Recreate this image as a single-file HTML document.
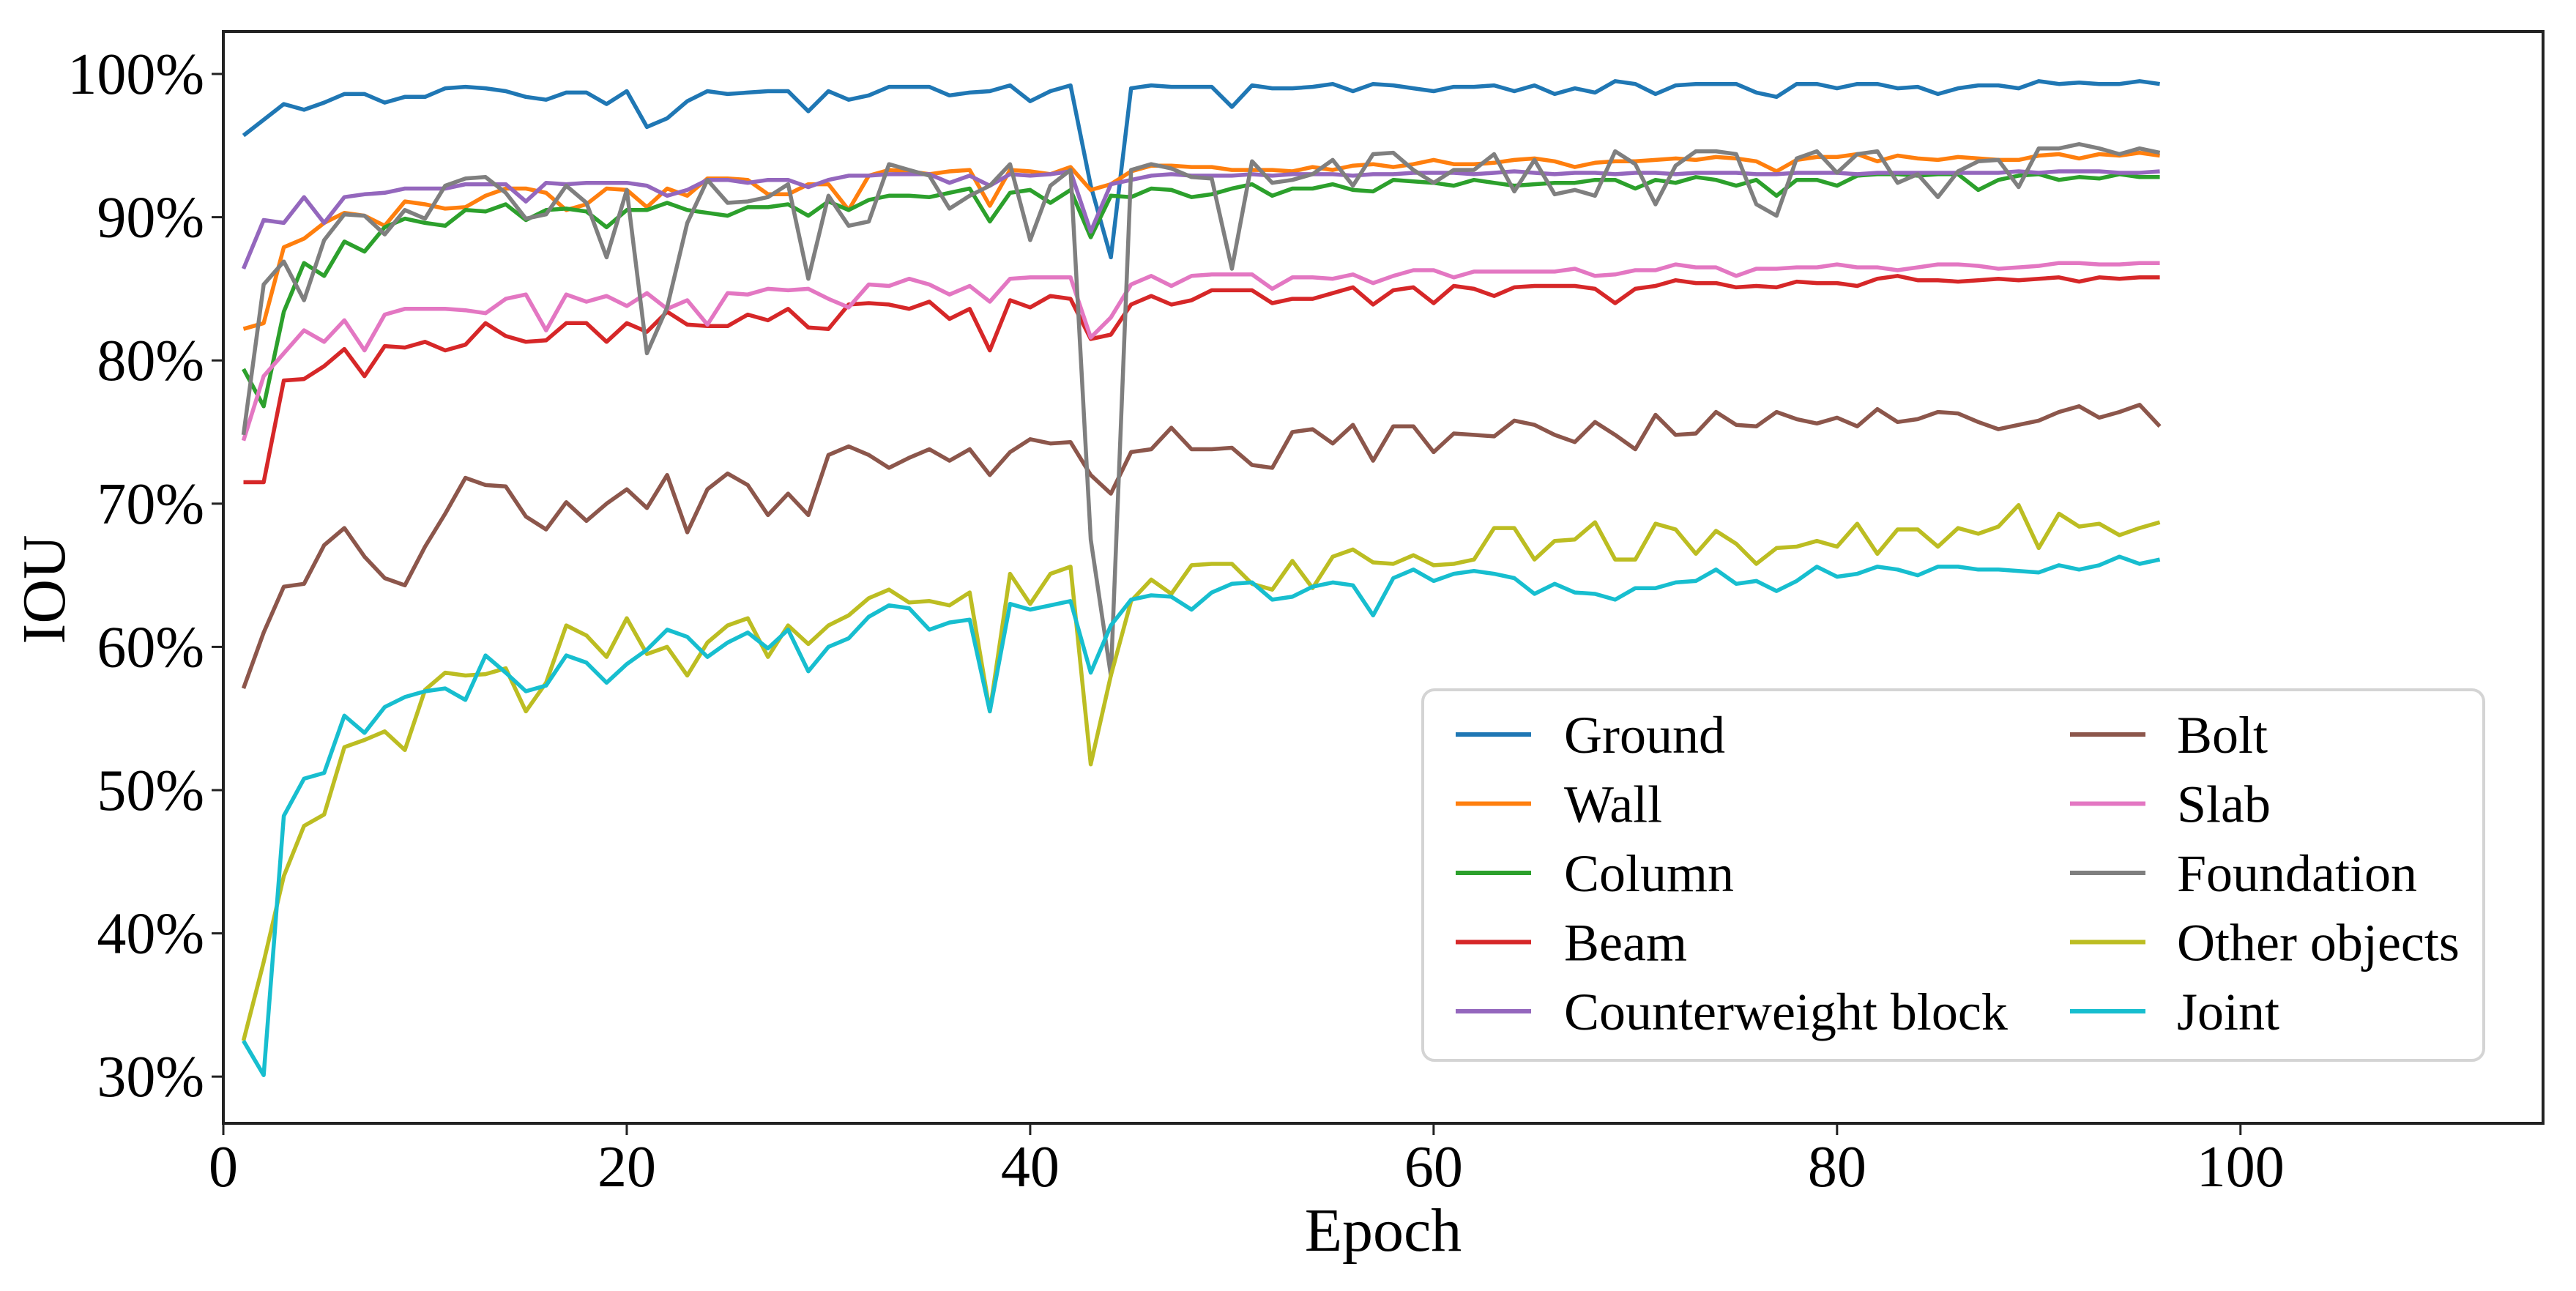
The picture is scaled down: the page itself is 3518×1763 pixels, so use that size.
<!DOCTYPE html>
<html><head><meta charset="utf-8"><style>
html,body{margin:0;padding:0;background:#fff;}
svg{display:block;font-family:"Liberation Serif",serif;}
</style></head><body>
<svg id="chart" width="3518" height="1763" viewBox="0 0 3518 1763" xmlns="http://www.w3.org/2000/svg">
<rect width="3518" height="1763" fill="#fff"/>
<g id="series"></g>
<g id="axes"></g>
<g id="legend"></g>
</svg>
<script>
const seriesNames = ["Ground","Wall","Column","Beam","Counterweight block","Bolt","Slab","Foundation","Other objects","Joint"];
const seriesColors = ["#1f77b4","#ff7f0e","#2ca02c","#d62728","#9467bd","#8c564b","#e377c2","#7f7f7f","#bcbd22","#17becf"];
const xTicks = [0,20,40,60,80,100];
const yTicks = [30,40,50,60,70,80,90,100];
const ground = [95.7,96.8,97.9,97.5,98.0,98.6,98.6,98.0,98.4,98.4,99.0,99.1,99.0,98.8,98.4,98.2,98.7,98.7,97.9,98.8,96.3,96.9,98.1,98.8,98.6,98.7,98.8,98.8,97.4,98.8,98.2,98.5,99.1,99.1,99.1,98.5,98.7,98.8,99.2,98.1,98.8,99.2,92.2,87.2,99.0,99.2,99.1,99.1,99.1,97.7,99.2,99.0,99.0,99.1,99.3,98.8,99.3,99.2,99.0,98.8,99.1,99.1,99.2,98.8,99.2,98.6,99.0,98.7,99.5,99.3,98.6,99.2,99.3,99.3,99.3,98.7,98.4,99.3,99.3,99.0,99.3,99.3,99.0,99.1,98.6,99.0,99.2,99.2,99.0,99.5,99.3,99.4,99.3,99.3,99.5,99.3];
const wall = [82.2,82.6,87.9,88.5,89.6,90.3,90.1,89.4,91.1,90.9,90.6,90.7,91.5,92.0,92.0,91.7,90.5,90.9,92.0,91.9,90.7,92.0,91.5,92.7,92.7,92.6,91.6,91.6,92.3,92.3,90.5,92.9,93.3,93.2,93.0,93.2,93.3,90.8,93.3,93.2,93.0,93.5,91.9,92.3,93.2,93.6,93.6,93.5,93.5,93.3,93.3,93.3,93.2,93.5,93.3,93.6,93.7,93.5,93.7,94.0,93.7,93.7,93.8,94.0,94.1,93.9,93.5,93.8,93.9,93.9,94.0,94.1,94.0,94.2,94.1,93.9,93.2,94.0,94.2,94.2,94.4,93.9,94.3,94.1,94.0,94.2,94.1,94.0,94.0,94.3,94.4,94.1,94.4,94.3,94.5,94.3];
const column = [79.4,76.8,83.4,86.8,85.9,88.3,87.6,89.3,89.9,89.6,89.4,90.5,90.4,90.9,89.8,90.5,90.6,90.4,89.3,90.5,90.5,91.0,90.5,90.3,90.1,90.7,90.7,90.9,90.1,91.1,90.5,91.2,91.5,91.5,91.4,91.7,92.0,89.7,91.7,91.9,91.0,91.9,88.6,91.5,91.4,92.0,91.9,91.4,91.6,92.0,92.3,91.5,92.0,92.0,92.3,91.9,91.8,92.6,92.5,92.4,92.2,92.6,92.4,92.2,92.3,92.4,92.4,92.6,92.6,92.0,92.6,92.4,92.8,92.6,92.2,92.6,91.5,92.6,92.6,92.2,92.9,93.0,93.0,92.9,93.0,93.0,91.9,92.6,92.9,93.0,92.6,92.8,92.7,93.0,92.8,92.8];
const beam = [71.5,71.5,78.6,78.7,79.6,80.8,78.9,81.0,80.9,81.3,80.7,81.1,82.6,81.7,81.3,81.4,82.6,82.6,81.3,82.6,82.0,83.4,82.5,82.4,82.4,83.2,82.8,83.6,82.3,82.2,83.9,84.0,83.9,83.6,84.1,82.9,83.6,80.7,84.2,83.7,84.5,84.3,81.5,81.8,83.9,84.5,83.9,84.2,84.9,84.9,84.9,84.0,84.3,84.3,84.7,85.1,83.9,84.9,85.1,84.0,85.2,85.0,84.5,85.1,85.2,85.2,85.2,85.0,84.0,85.0,85.2,85.6,85.4,85.4,85.1,85.2,85.1,85.5,85.4,85.4,85.2,85.7,85.9,85.6,85.6,85.5,85.6,85.7,85.6,85.7,85.8,85.5,85.8,85.7,85.8,85.8];
const counterweight = [86.4,89.8,89.6,91.4,89.6,91.4,91.6,91.7,92.0,92.0,92.0,92.3,92.3,92.3,91.1,92.4,92.3,92.4,92.4,92.4,92.2,91.5,91.9,92.6,92.6,92.4,92.6,92.6,92.1,92.6,92.9,92.9,93.0,93.0,93.0,92.4,92.9,92.2,93.0,92.9,93.0,93.2,89.0,92.3,92.6,92.9,93.0,92.9,92.9,92.9,93.0,92.9,93.0,93.0,93.0,92.9,93.0,93.0,93.1,93.1,93.1,93.0,93.1,93.2,93.1,93.0,93.1,93.1,93.0,93.1,93.1,93.0,93.1,93.1,93.1,93.0,93.0,93.1,93.1,93.1,93.0,93.1,93.1,93.1,93.1,93.1,93.1,93.1,93.2,93.1,93.2,93.2,93.2,93.1,93.1,93.2];
const bolt = [57.1,61.0,64.2,64.4,67.1,68.3,66.3,64.8,64.3,67.0,69.3,71.8,71.3,71.2,69.1,68.2,70.1,68.8,70.0,71.0,69.7,72.0,68.0,71.0,72.1,71.3,69.2,70.7,69.2,73.4,74.0,73.4,72.5,73.2,73.8,73.0,73.8,72.0,73.6,74.5,74.2,74.3,72.0,70.7,73.6,73.8,75.3,73.8,73.8,73.9,72.7,72.5,75.0,75.2,74.2,75.5,73.0,75.4,75.4,73.6,74.9,74.8,74.7,75.8,75.5,74.8,74.3,75.7,74.8,73.8,76.2,74.8,74.9,76.4,75.5,75.4,76.4,75.9,75.6,76.0,75.4,76.6,75.7,75.9,76.4,76.3,75.7,75.2,75.5,75.8,76.4,76.8,76.0,76.4,76.9,75.4];
const slab = [74.4,78.9,80.5,82.1,81.3,82.8,80.7,83.2,83.6,83.6,83.6,83.5,83.3,84.3,84.6,82.1,84.6,84.1,84.5,83.8,84.7,83.6,84.2,82.5,84.7,84.6,85.0,84.9,85.0,84.3,83.7,85.3,85.2,85.7,85.3,84.6,85.2,84.1,85.7,85.8,85.8,85.8,81.6,83.0,85.3,85.9,85.2,85.9,86.0,86.0,86.0,85.0,85.8,85.8,85.7,86.0,85.4,85.9,86.3,86.3,85.8,86.2,86.2,86.2,86.2,86.2,86.4,85.9,86.0,86.3,86.3,86.7,86.5,86.5,85.9,86.4,86.4,86.5,86.5,86.7,86.5,86.5,86.3,86.5,86.7,86.7,86.6,86.4,86.5,86.6,86.8,86.8,86.7,86.7,86.8,86.8];
const foundation = [74.8,85.3,86.9,84.2,88.4,90.2,90.1,88.8,90.5,89.9,92.2,92.7,92.8,91.7,89.9,90.2,92.2,91.0,87.2,91.9,80.5,83.7,89.6,92.6,91.0,91.1,91.4,92.3,85.7,91.5,89.4,89.7,93.7,93.3,92.9,90.6,91.5,92.2,93.7,88.4,92.2,93.3,67.5,58.0,93.3,93.7,93.4,92.8,92.7,86.4,93.9,92.4,92.6,93.0,94.0,92.2,94.4,94.5,93.3,92.4,93.3,93.3,94.4,91.8,94.0,91.6,91.9,91.5,94.6,93.7,90.9,93.6,94.6,94.6,94.4,90.9,90.1,94.1,94.6,93.1,94.4,94.6,92.4,93.0,91.4,93.2,93.9,94.0,92.1,94.8,94.8,95.1,94.8,94.4,94.8,94.5];
const otherObjects = [32.5,38.0,44.0,47.5,48.3,53.0,53.5,54.1,52.8,57.0,58.2,58.0,58.1,58.5,55.5,57.5,61.5,60.8,59.3,62.0,59.5,60.0,58.0,60.3,61.5,62.0,59.3,61.5,60.2,61.5,62.2,63.4,64.0,63.1,63.2,62.9,63.8,55.5,65.1,63.0,65.1,65.6,51.8,58.0,63.2,64.7,63.7,65.7,65.8,65.8,64.4,64.0,66.0,64.1,66.3,66.8,65.9,65.8,66.4,65.7,65.8,66.1,68.3,68.3,66.1,67.4,67.5,68.7,66.1,66.1,68.6,68.2,66.5,68.1,67.2,65.8,66.9,67.0,67.4,67.0,68.6,66.5,68.2,68.2,67.0,68.3,67.9,68.4,69.9,66.9,69.3,68.4,68.6,67.8,68.3,68.7];
const joint = [32.5,30.1,48.2,50.8,51.2,55.2,54.0,55.8,56.5,56.9,57.1,56.3,59.4,58.2,56.9,57.3,59.4,58.9,57.5,58.8,59.8,61.2,60.7,59.3,60.3,61.0,59.9,61.2,58.3,60.0,60.6,62.1,62.9,62.7,61.2,61.7,61.9,55.5,63.0,62.6,62.9,63.2,58.2,61.5,63.3,63.6,63.5,62.6,63.8,64.4,64.5,63.3,63.5,64.2,64.5,64.3,62.2,64.8,65.4,64.6,65.1,65.3,65.1,64.8,63.7,64.4,63.8,63.7,63.3,64.1,64.1,64.5,64.6,65.4,64.4,64.6,63.9,64.6,65.6,64.9,65.1,65.6,65.4,65.0,65.6,65.6,65.4,65.4,65.3,65.2,65.7,65.4,65.7,66.3,65.8,66.1];
const allSeries = [ground,wall,column,beam,counterweight,bolt,slab,foundation,otherObjects,joint];

const NS = "http://www.w3.org/2000/svg";
const X0 = 305, X1 = 3473, Y0 = 43, Y1 = 1534;
const xMin = 0, xMax = 115;
const yRef100 = 101, yPer1 = 19.56;
function xScale(e){ return X0 + (e - xMin) / (xMax - xMin) * (X1 - X0); }
function yScale(v){ return yRef100 + (100 - v) * yPer1; }
function mk(tag, attrs, parent){ const el = document.createElementNS(NS, tag); for (const k in attrs) el.setAttribute(k, attrs[k]); parent.appendChild(el); return el; }

const gS = document.getElementById('series');
const clip = mk('clipPath', {id:'plotclip'}, gS);
mk('rect', {x:X0, y:Y0, width:X1-X0, height:Y1-Y0}, clip);
allSeries.forEach((arr, i) => {
  const pts = arr.map((v, j) => xScale(j + 1).toFixed(1) + ',' + yScale(v).toFixed(1)).join(' ');
  const pl = mk('polyline', {points:pts, fill:'none', stroke:seriesColors[i], 'stroke-width':5.5, 'stroke-linejoin':'round', 'clip-path':'url(#plotclip)'}, gS);
  
  
});

const gA = document.getElementById('axes');
const frame = mk('rect', {x:X0, y:Y0, width:X1-X0, height:Y1-Y0, fill:'none', stroke:'#222', 'stroke-width':4}, gA);


xTicks.forEach(t => {
  const x = xScale(t);
  const tk = mk('line', {x1:x, y1:Y1, x2:x, y2:Y1 + 16, stroke:'#222', 'stroke-width':3}, gA);
  
  
  const tx = mk('text', {x:x, y:1620, 'font-size':80, 'text-anchor':'middle', fill:'#000'}, gA);
  tx.textContent = t;
  
  
});
yTicks.forEach(t => {
  const y = yScale(t);
  const tk = mk('line', {x1:X0 - 16, y1:y, x2:X0, y2:y, stroke:'#222', 'stroke-width':3}, gA);
  
  
  const tx = mk('text', {x:X0 - 26, y:y + 27, 'font-size':80, 'text-anchor':'end', fill:'#000'}, gA);
  tx.textContent = t + '%';
  
  
});
const xt = mk('text', {x:1889, y:1708, 'font-size':84, 'text-anchor':'middle', fill:'#000'}, gA);
xt.textContent = 'Epoch';


const yt = mk('text', {x:0, y:0, 'font-size':84, 'text-anchor':'middle', fill:'#000', transform:'translate(88,805) rotate(-90)'}, gA);
yt.textContent = 'IOU';



const gL = document.getElementById('legend');
const lb = mk('rect', {x:1943, y:942, width:1449, height:506, rx:16, fill:'#fff', stroke:'#d4d4d4', 'stroke-width':4}, gL);


seriesNames.forEach((n, i) => {
  const col = Math.floor(i / 5), row = i % 5;
  const hx = col === 0 ? 1988 : 2827;
  const tx0 = col === 0 ? 2136 : 2973;
  const cy = 1003 + row * 94.5;
  const g = mk('g', {}, gL);
  
  
  mk('line', {x1:hx, y1:cy, x2:hx + 103, y2:cy, stroke:seriesColors[i], 'stroke-width':6}, g);
  const t = mk('text', {x:tx0, y:cy + 25, 'font-size':72, fill:'#000'}, g);
  t.textContent = n;
});
</script>
</body></html>
